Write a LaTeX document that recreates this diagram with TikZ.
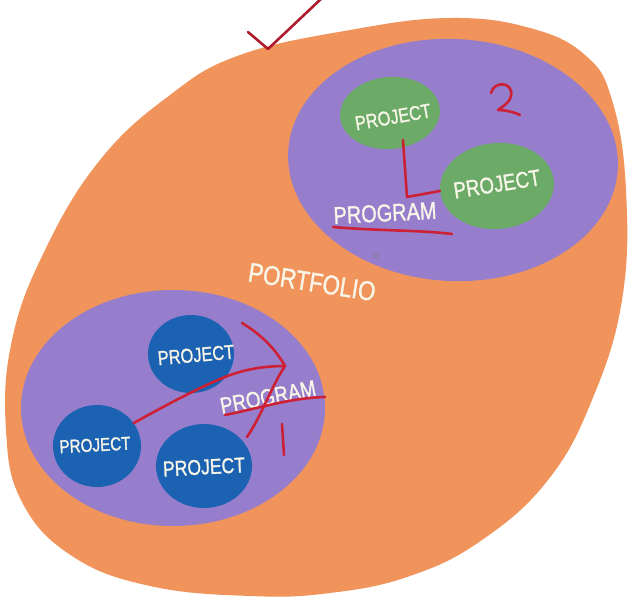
\documentclass[tikz,border=0pt]{standalone}
\usetikzlibrary{shapes.geometric}
\usepackage{graphicx}
\usepackage{fontspec}
\setmainfont{Liberation Sans}[BoldFont={Liberation Sans},BoldFeatures={FakeBold=1.3}]
\definecolor{orng}{RGB}{240,148,92}
\definecolor{purp}{RGB}{150,126,204}
\definecolor{grn}{RGB}{108,170,104}
\definecolor{blu}{RGB}{28,98,178}
\definecolor{redd}{RGB}{205,32,52}
\definecolor{chalk}{RGB}{248,246,232}
\newcommand{\hand}[1]{\scalebox{1}[1.22]{\bfseries #1}}
\begin{document}
\begin{tikzpicture}[x=0.03cm,y=-0.03cm,
  blob/.style={ellipse,inner sep=0pt},
  lbl/.style={text=chalk,inner sep=0pt},
  pen/.style={draw=redd,line width=2.2pt,line cap=round,line join=round}]
\useasboundingbox[fill=white] (0,0) rectangle (630,604);
% portfolio blob
\fill[orng] plot[smooth cycle,tension=0.7] coordinates {
 (240,55) (350,30) (450,18) (530,28) (585,55) (612,100) (626,190) (622,300)
 (592,400) (548,480) (482,540) (410,576) (330,593) (250,596) (150,586)
 (72,556) (22,502) (6,430) (12,340) (45,250) (100,160) (170,95)};
% programs
\node[blob,fill=purp,minimum width=9.9cm,minimum height=7.26cm,rotate=-3] (prog2) at (453,160) {};
\node[blob,fill=purp,minimum width=9.12cm,minimum height=7.08cm] (prog1) at (173,408) {};
% green projects
\node[blob,fill=grn,minimum width=3cm,minimum height=2.16cm,rotate=5] (g1) at (390,113) {};
\node[blob,fill=grn,minimum width=3.42cm,minimum height=2.58cm,rotate=5] (g2) at (497,186) {};
% blue projects
\node[blob,fill=blu,minimum width=2.58cm,minimum height=2.34cm] (p1) at (191,354) {};
\node[blob,fill=blu,minimum width=2.64cm,minimum height=2.46cm] (p2) at (97,446) {};
\node[blob,fill=blu,minimum width=2.88cm,minimum height=2.52cm] (p3) at (204,466) {};
% labels
\node[lbl,rotate=10,font=\fontsize{14}{16}\selectfont] (tg1) at (393,117) {\hand{PROJECT}};
\node[lbl,rotate=9,font=\fontsize{16}{18}\selectfont] (tg2) at (497,184) {\hand{PROJECT}};
\node[lbl,rotate=3,font=\fontsize{17}{19}\selectfont] (tpr2) at (385,213) {\hand{PROGRAM}};
\node[lbl,rotate=-9,font=\fontsize{19}{21}\selectfont] (tpf) at (312,282) {\hand{PORTFOLIO}};
\node[lbl,rotate=5,font=\fontsize{14}{16}\selectfont] (tp1) at (196,355) {\hand{PROJECT}};
\node[lbl,rotate=3,font=\fontsize{13}{15}\selectfont] (tp2) at (95,445) {\hand{PROJECT}};
\node[lbl,rotate=3,font=\fontsize{15}{17}\selectfont] (tp3) at (204,467) {\hand{PROJECT}};
\node[lbl,rotate=11,font=\fontsize{16}{18}\selectfont] (tpr1) at (268,397) {\hand{PROGRAM}};
% red marks, top program
\coordinate (l1) at (403,140);
\coordinate (l2) at (407,197);
\draw[pen] (l1) -- (l2) -- (g2.west);
\coordinate (u1) at (333,227);
\coordinate (u2) at (452,234);
\draw[pen] (u1) .. controls (380,231) and (420,230) .. (u2);
\draw[pen] (491,93) .. controls (494,80) and (514,82) .. (511,96)
  .. controls (509,104) and (500,108) .. (498,110) .. controls (505,110) and (514,112) .. (520,115);
% small dot
\coordinate (dot) at (376,256);
\draw[gray!70!purp,line width=0.6pt] (dot) circle (2.5);
% check mark
\coordinate (c1) at (248,32);
\coordinate (c2) at (268,49);
\coordinate (c3) at (322,-2);
\draw[pen,draw=redd!85!black] (c1) -- (c2) -- (c3);
% red marks, bottom program
\coordinate (tip) at (285,366);
\draw[pen] (p2.32) .. controls (175,400) and (205,385) .. (225,377)
  .. controls (245,369) and (265,366) .. (tip);
\coordinate (h1) at (242,323);
\coordinate (h2) at (247,437);
\draw[pen] (h1) .. controls (262,335) and (276,350) .. (tip)
  .. controls (272,385) and (262,415) .. (h2);
\coordinate (s1) at (225,415);
\coordinate (s2) at (325,397);
\draw[pen] (s1) .. controls (260,408) and (290,398) .. (s2);
\coordinate (n1) at (282,424);
\coordinate (n2) at (284,455);
\draw[pen] (n1) -- (n2);
\end{tikzpicture}
\end{document}
